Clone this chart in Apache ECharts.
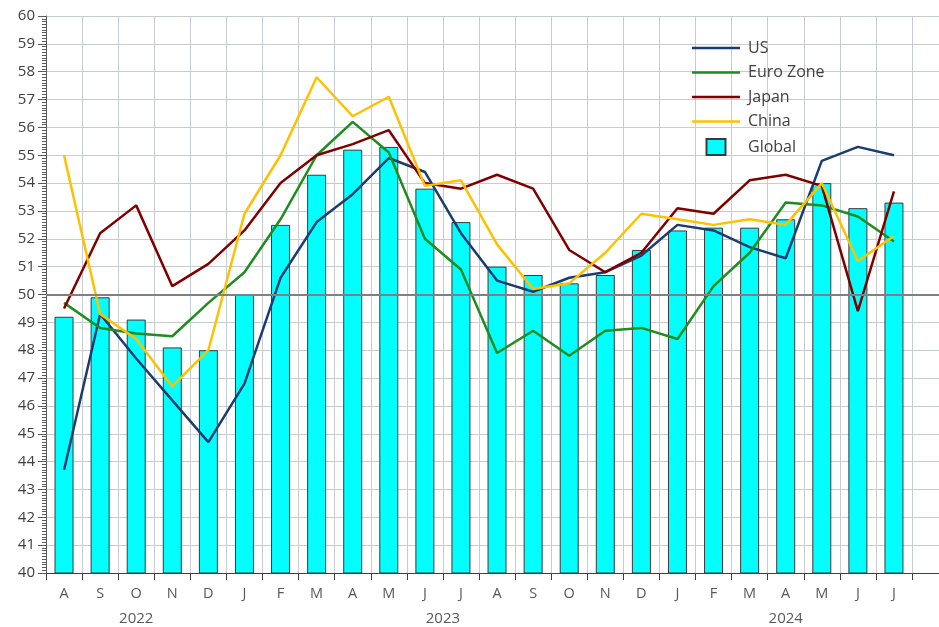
<!DOCTYPE html>
<html>
<head>
<meta charset="utf-8">
<script src="https://cdn.jsdelivr.net/npm/echarts@6/dist/echarts.min.js"></script>
<style>
  html, body { margin: 0; padding: 0; background: #fff; }
  #chart { width: 939px; height: 627px; }
</style>
</head>
<body>
<div id="chart"></div>
<script>
// PMI readings, Aug 2022 – Jul 2024
const months = ['A', 'S', 'O', 'N', 'D', 'J', 'F', 'M', 'A', 'M', 'J', 'J',
                'A', 'S', 'O', 'N', 'D', 'J', 'F', 'M', 'A', 'M', 'J', 'J'];
const years = ['2022', '2023', '2024'];
const monthsPerYear = [5, 12, 7];

const us    = [43.7, 49.3, 47.7, 46.2, 44.7, 46.8, 50.6, 52.6, 53.6, 54.9, 54.4, 52.2,
               50.5, 50.1, 50.6, 50.8, 51.4, 52.5, 52.3, 51.7, 51.3, 54.8, 55.3, 55.0];
const euro  = [49.7, 48.8, 48.6, 48.5, 49.7, 50.8, 52.7, 55.0, 56.2, 55.1, 52.0, 50.9,
               47.9, 48.7, 47.8, 48.7, 48.8, 48.4, 50.3, 51.5, 53.3, 53.2, 52.8, 51.9];
const japan = [49.5, 52.2, 53.2, 50.3, 51.1, 52.3, 54.0, 55.0, 55.4, 55.9, 54.0, 53.8,
               54.3, 53.8, 51.6, 50.8, 51.5, 53.1, 52.9, 54.1, 54.3, 53.9, 49.4, 53.7];
const china = [55.0, 49.3, 48.4, 46.7, 48.0, 52.9, 55.0, 57.8, 56.4, 57.1, 53.9, 54.1,
               51.8, 50.2, 50.4, 51.5, 52.9, 52.7, 52.5, 52.7, 52.5, 54.0, 51.2, 52.1];
const global = [49.2, 49.9, 49.1, 48.1, 48.0, 50.0, 52.5, 54.3, 55.2, 55.3, 53.8, 52.6,
                51.0, 50.7, 50.4, 50.7, 51.6, 52.3, 52.4, 52.4, 52.7, 54.0, 53.1, 53.3];
const threshold = 50;

// year captions sit on a half-month point axis, centred under each year's months
const yearSlots = new Array(months.length * 2 + 1).fill('');
let acc = 0;
years.forEach((y, i) => {
  yearSlots[(acc + monthsPerYear[i] / 2) * 2] = y;
  acc += monthsPerYear[i];
});

const FONT = 'Open Sans';
const GRID_LINE = '#c6ccd0';
const TEXT = '#595959';
// plain stroke for the legend, the line series' own legend icon adds a dot
const LINE_ICON = 'path://M0,0H48V2.5H0Z';

const lineSeries = (name, data, color) => ({
  name, type: 'line', data, xAxisIndex: 0, yAxisIndex: 0,
  symbol: 'none', showSymbol: false, z: 4,
  lineStyle: { color, width: 2.5 }, itemStyle: { color },
});

const chart = echarts.init(document.getElementById('chart'), null, { renderer: 'canvas' });
chart.setOption({
  animation: false,
  textStyle: { fontFamily: FONT },
  grid: [
    { left: 46, right: 27, top: 16, bottom: 54 },
    { left: 46, right: 0, top: 16, bottom: 54 },
  ],
  legend: {
    orient: 'vertical', left: 687, top: 35,
    itemWidth: 48, itemHeight: 16, itemGap: 8.5,
    textStyle: { color: '#404040', fontSize: 16, fontFamily: FONT, padding: [0, 0, 0, 3] },
    data: [
      { name: 'US', icon: LINE_ICON },
      { name: 'Euro Zone', icon: LINE_ICON },
      { name: 'Japan', icon: LINE_ICON },
      { name: 'China', icon: LINE_ICON },
      { name: 'Global', icon: 'path://M0,0H19V16H0Z' },
    ],
  },
  xAxis: [
    {
      type: 'category', gridIndex: 0, data: months, boundaryGap: true,
      axisLine: { show: true, lineStyle: { color: '#404040', width: 1 } },
      axisTick: { show: true, length: 7, lineStyle: { color: '#404040' } },
      axisLabel: { color: TEXT, fontSize: 14.5, margin: 13, interval: 0 },
      splitLine: { show: true, lineStyle: { color: GRID_LINE, width: 1 } },
    },
    {
      type: 'value', gridIndex: 1, min: 0, max: 1,
      axisLine: { show: true, onZero: false, lineStyle: { color: '#404040', width: 1 } },
      axisTick: { show: false }, axisLabel: { show: false }, splitLine: { show: false },
    },
    {
      type: 'category', gridIndex: 0, data: yearSlots, boundaryGap: false,
      position: 'bottom', offset: 27,
      axisLine: { show: false }, axisTick: { show: false }, splitLine: { show: false },
      axisLabel: { color: TEXT, fontSize: 15, margin: 11, interval: 0 },
    },
  ],
  yAxis: [
    {
      type: 'value', gridIndex: 0, min: 40, max: 60, interval: 1,
      axisLine: { show: true, lineStyle: { color: '#595959', width: 1 } },
      axisTick: { show: true, length: 8, lineStyle: { color: '#595959' } },
      minorTick: { show: true, splitNumber: 10, length: 4, lineStyle: { color: '#595959' } },
      axisLabel: { color: '#404040', fontSize: 15, margin: 11 },
      splitLine: { show: false },
    },
    {
      type: 'value', gridIndex: 1, min: 40, max: 60, interval: 1,
      axisLine: { show: false }, axisTick: { show: false }, axisLabel: { show: false },
      splitLine: { show: true, lineStyle: { color: GRID_LINE, width: 1.2 } },
    },
  ],
  series: [
    {
      name: 'Global', type: 'bar', data: global, xAxisIndex: 0, yAxisIndex: 0,
      barWidth: 19, z: 2,
      itemStyle: { color: '#00FFFF', borderColor: '#3a3a3a', borderWidth: 1 },
    },
    {
      type: 'line', data: [], xAxisIndex: 1, yAxisIndex: 1, z: 3, silent: true,
      markLine: {
        silent: true, symbol: 'none', label: { show: false },
        lineStyle: { color: '#808080', width: 2, type: 'solid' },
        data: [{ yAxis: threshold }],
      },
    },
    lineSeries('US', us, '#1B3C6E'),
    lineSeries('Euro Zone', euro, '#1E8C1E'),
    lineSeries('Japan', japan, '#800000'),
    lineSeries('China', china, '#FFC000'),
  ],
});
</script>
</body>
</html>
